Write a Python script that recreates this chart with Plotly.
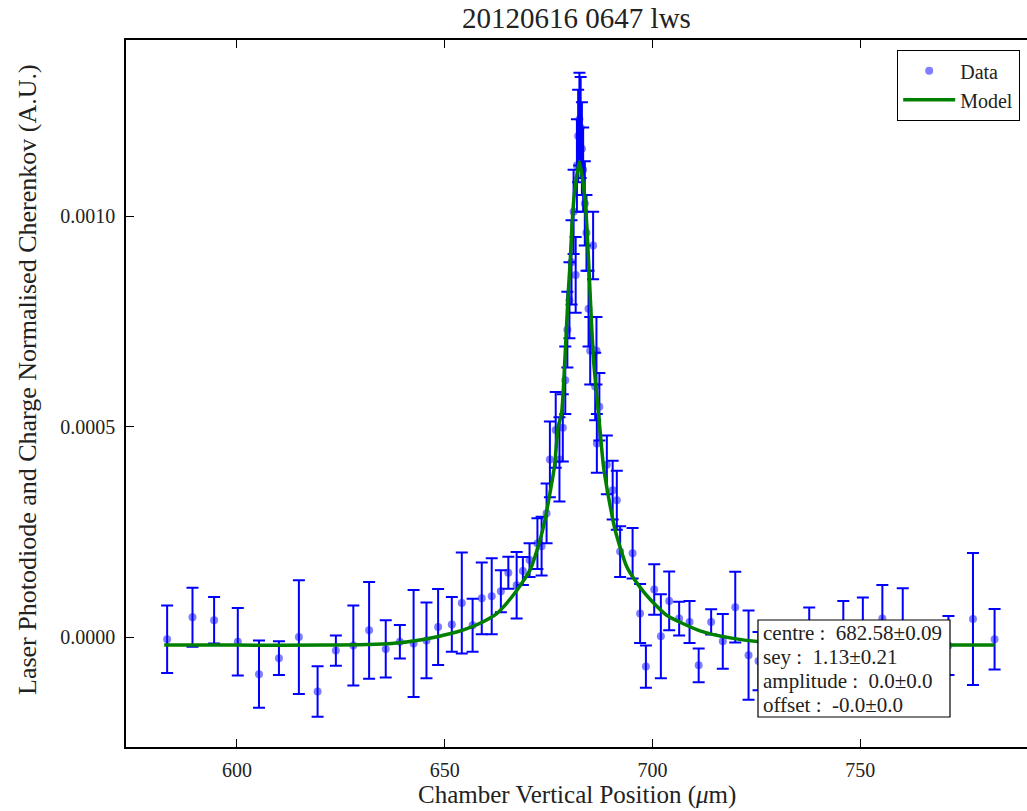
import plotly.graph_objects as go

# ---- data ----
data_x = [583.2, 589.3, 594.5, 600.2, 605.3, 610.1, 614.9, 619.4, 623.8, 628.0,
          631.8, 635.8, 639.2, 642.5, 645.6, 648.4, 651.7, 654.1, 656.7, 658.9,
          661.3, 663.5, 665.3, 667.3, 668.8, 670.4, 672.3, 673.3, 674.5, 675.3,
          676.7, 677.6, 678.4, 679.0, 679.5, 680.0, 680.5, 681.0, 681.5, 681.8,
          682.1, 682.4, 682.7, 683.0, 683.3, 683.7, 684.1, 684.6, 685.0, 685.7,
          686.2, 686.5, 686.6, 687.2, 689.0, 690.4, 691.4, 692.2, 695.2, 697.0,
          698.4, 700.4, 702.0, 704.0, 706.4, 708.9, 711.1, 714.1, 716.9, 719.9,
          723.1, 725.5, 731.0, 737.7, 745.9, 750.6, 755.3, 760.2, 766.0, 771.2,
          777.1, 782.3]
data_y = [-0.000005, 0.000047, 0.000040, -0.000011, -0.000088, -0.000050, 0.000000, -0.000129, -0.000032, -0.000020,
          0.000016, -0.000028, -0.000011, -0.000015, -0.000008, 0.000024, 0.000030, 0.000081, 0.000028, 0.000092,
          0.000097, 0.000109, 0.000153, 0.000123, 0.000157, 0.000183, 0.000222, 0.000216, 0.000294, 0.000422,
          0.000492, 0.000422, 0.000497, 0.000610, 0.000730, 0.000800, 0.000890, 0.001010, 0.000860, 0.001120,
          0.001190, 0.001230, 0.001210, 0.001160, 0.001110, 0.001030, 0.000960, 0.000780, 0.000680, 0.000930,
          0.000595, 0.000680, 0.000460, 0.000547, 0.000409, 0.000349, 0.000325, 0.000203, 0.000199, 0.000056,
          -0.000070, 0.000113, 0.000002, 0.000086, 0.000044, 0.000036, -0.000067, 0.000036, -0.000010, 0.000071,
          -0.000043, -0.000057, -0.000030, -0.000010, 0.000000, 0.000010, 0.000044, 0.000020, -0.000030, -0.000020,
          0.000043, -0.000005]
data_err = [0.000080, 0.000070, 0.000055, 0.000080, 0.000080, 0.000040, 0.000135, 0.000060, 0.000036, 0.000095,
            0.000115, 0.000068, 0.000040, 0.000127, 0.000090, 0.000090, 0.000065, 0.000120, 0.000063, 0.000085,
            0.000090, 0.000050, 0.000038, 0.000079, 0.000033, 0.000040, 0.000060, 0.000070, 0.000071, 0.000090,
            0.000090, 0.000100, 0.000080, 0.000080, 0.000090, 0.000090, 0.000100, 0.000100, 0.000090, 0.000110,
            0.000110, 0.000110, 0.000120, 0.000110, 0.000100, 0.000100, 0.000090, 0.000090, 0.000080, 0.000080,
            0.000080, 0.000080, 0.000070, 0.000080, 0.000070, 0.000070, 0.000070, 0.000060, 0.000060, 0.000070,
            0.000050, 0.000060, 0.000100, 0.000070, 0.000040, 0.000050, 0.000040, 0.000030, 0.000065, 0.000084,
            0.000106, 0.000069, 0.000050, 0.000080, 0.000086, 0.000084, 0.000080, 0.000096, 0.000050, 0.000070,
            0.000157, 0.000072]

model_x = [582.5, 600.0, 621.0, 637.2, 645.2, 651.7, 654.5, 658.5, 662.5, 666.5,
           670.5, 672.9, 674.1, 675.3, 676.4, 677.3, 678.1, 678.9, 679.7, 680.2,
           680.6, 681.2, 682.4, 683.6, 684.2, 684.6, 685.8, 687.0, 688.2, 689.4,
           691.0, 693.8, 697.0, 699.4, 703.4, 711.4, 719.4, 725.9, 740.0, 771.6,
           782.3]
model_y = [-0.000019, -0.000019, -0.000019, -0.000015, -0.000005, 0.000009, 0.000017, 0.000033, 0.000056, 0.000100,
           0.000159, 0.000230, 0.000278, 0.000341, 0.000405, 0.000500, 0.000531, 0.000658, 0.000816, 0.000895,
           0.000975, 0.001054, 0.001129, 0.001054, 0.000975, 0.000895, 0.000658, 0.000531, 0.000405, 0.000333,
           0.000254, 0.000167, 0.000118, 0.000090, 0.000052, 0.000015, -0.000003, -0.000011, -0.000016, -0.000019,
           -0.000019]

fit_lines = ["centre :  682.58±0.09", "sey :  1.13±0.21",
             "amplitude :  0.0±0.0", "offset :  -0.0±0.0"]

y_ticks = [0.0, 0.0005, 0.0010]
x_ticks = [600, 650, 700, 750]

FONT = "Liberation Serif"
TXT = "#222222"

# plot-area geometry in pixels (for placing annotations in paper units)
L, T, R, B = 126, 40, 1027, 747
PW, PH = R - L, B - T


def px(xp):
    return (xp - L) / PW


def py(yp):
    return (B - yp) / PH


fig = go.Figure()
fig.add_trace(go.Scatter(
    x=data_x, y=data_y, mode="markers", name="Data",
    marker=dict(color="rgba(0,0,255,0.5)", size=8),
    error_y=dict(type="data", array=data_err, visible=True,
                 color="#0000ff", thickness=2, width=6),
))
fig.add_trace(go.Scatter(
    x=model_x, y=model_y, mode="lines", name="Model",
    line=dict(color="#008000", width=3.5, shape="spline", smoothing=0.6),
))

fig.update_layout(
    width=1027, height=811,
    margin=dict(l=L, r=1027 - R, t=T, b=811 - B),
    paper_bgcolor="white", plot_bgcolor="white",
    font=dict(family=FONT, size=18, color=TXT),
    title=dict(text="20120616 0647 lws", x=0.5, xref="paper",
               y=1 - 18 / 811, yref="container", yanchor="middle",
               font=dict(family=FONT, size=29, color=TXT)),
    showlegend=True,
    legend=dict(x=px(897), y=py(50), xanchor="left", yanchor="top",
                bgcolor="white", bordercolor="black", borderwidth=1.2,
                font=dict(family=FONT, size=20, color=TXT),
                itemwidth=52, tracegroupgap=0),
)

fig.update_xaxes(
    range=[573.3, 790.1], tickvals=x_ticks, ticktext=[str(v) for v in x_ticks],
    showgrid=False, zeroline=False, showline=True, linecolor="black",
    linewidth=1.5, mirror="ticks", ticks="inside", ticklen=8,
    tickcolor="black", ticklabelstandoff=4,
    tickfont=dict(family=FONT, size=20, color=TXT),
)
fig.update_yaxes(
    range=[-0.000261, 0.001418], tickvals=y_ticks,
    ticktext=["%.4f" % v for v in y_ticks],
    showgrid=False, zeroline=False, showline=True, linecolor="black",
    linewidth=1.5, mirror=False, ticks="inside", ticklen=8,
    tickcolor="black", ticklabelstandoff=5,
    tickfont=dict(family=FONT, size=20, color=TXT),
)

# axis titles
fig.add_annotation(xref="paper", yref="paper", x=0.5, y=py(795),
                   xanchor="center", yanchor="middle", showarrow=False,
                   text="Chamber Vertical Position (<i>μ</i>m)",
                   font=dict(family=FONT, size=25, color=TXT))
fig.add_annotation(xref="paper", yref="paper", x=px(28), y=py(380),
                   xanchor="center", yanchor="middle", showarrow=False,
                   textangle=-90,
                   text="Laser Photodiode and Charge Normalised Cherenkov (A.U.)",
                   font=dict(family=FONT, size=26, color=TXT))

# fit-parameter box
fig.add_shape(type="rect", xref="paper", yref="paper",
              x0=px(758), x1=px(950), y0=py(717), y1=py(620),
              line=dict(color="black", width=1.2), fillcolor="white",
              layer="above")
for line, yc in zip(fit_lines, [633, 657, 681, 705]):
    fig.add_annotation(xref="paper", yref="paper", x=px(761), y=py(yc),
                       xanchor="left", yanchor="middle", showarrow=False,
                       text=line, font=dict(family=FONT, size=21, color=TXT))

fig.write_html("out.html")
